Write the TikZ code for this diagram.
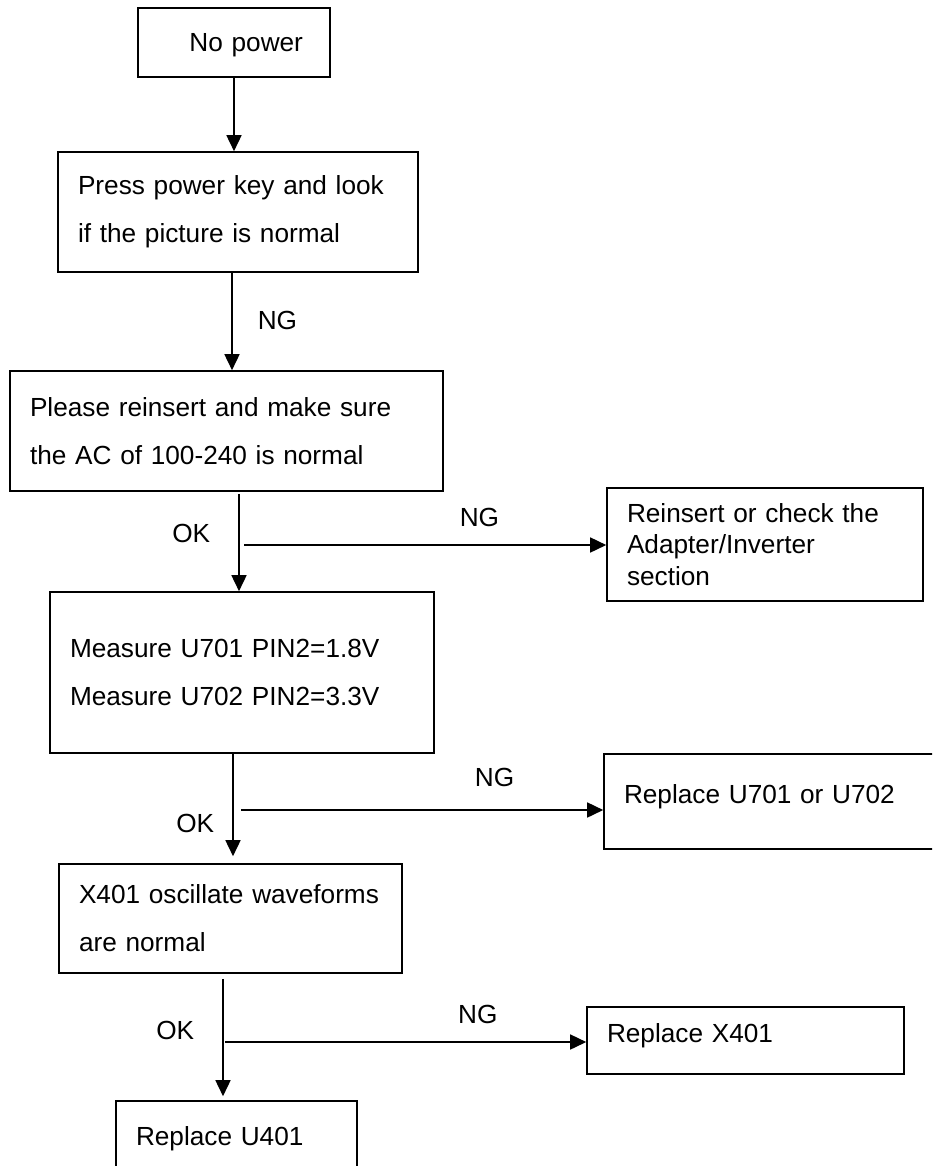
\documentclass[tikz,border=0pt]{standalone}
\usepackage{fontspec}
\setmainfont{Liberation Sans}
\usetikzlibrary{arrows.meta, positioning}

\begin{document}
\begin{tikzpicture}[
    x=1pt, y=-1pt,
    box/.style={rectangle, draw, line width=1.6pt, inner xsep=20pt, inner ysep=0pt, align=left, font=\fontsize{26.2}{48}\selectfont},
    single/.style={box, text height=19pt, text depth=15pt},
    arrow/.style={-{Triangle[length=16pt,width=15pt]}, line width=1.6pt},
    lbl/.style={inner sep=0pt, font=\fontsize{26.2}{30}\selectfont}
]
\useasboundingbox (0,0) rectangle (932,1166);
\clip (0,0) rectangle (932,1166);

% Nodes
\node [box, minimum width=192pt, minimum height=69pt, text width=138pt, inner xsep=27pt, align=right, text depth=0pt] (nopower) at (234,42.5) {No power};
\node [box, minimum width=360pt, minimum height=120pt, text width=320pt] (presskey) at (238,212) {Press power key and look\\ if the picture is normal};
\node [box, minimum width=433pt, minimum height=120pt, text width=393pt] (reinsert) at (226.5,431) {Please reinsert and make sure\\ the AC of 100-240 is normal};
\node [box, minimum width=316pt, minimum height=113pt, text width=276pt, font=\fontsize{26.2}{31.5}\selectfont] (adapter) at (765,544.5) {Reinsert or check the\\ Adapter/Inverter\\ section};
\node [box, minimum width=384pt, minimum height=161pt, text width=344pt] (measure) at (242,672.5) {Measure U701 PIN2=1.8V\\ Measure U702 PIN2=3.3V};
\node [single, minimum width=331pt, minimum height=95pt, text width=291pt] (replaceU7) at (769.5,801.5) {Replace U701 or U702};
\node [box, minimum width=343pt, minimum height=109pt, text width=303pt] (xosc) at (230.5,918.5) {\mbox{X401 oscillate waveforms}\\ are normal};
\node [single, minimum width=317pt, minimum height=67pt, text width=277pt] (replaceX) at (745.5,1040.5) {Replace X401};
\node [single, minimum width=241pt, minimum height=84pt, text width=201pt] (replaceU4) at (236.5,1143) {Replace U401};

% Main path
\draw [arrow] (nopower.south) -- (nopower.south |- presskey.north);
\draw [arrow] ([xshift=-6pt]presskey.south) -- node[lbl, right=25pt, pos=0.485] {NG} ([xshift=-6pt]presskey.south |- reinsert.north);
\draw [arrow, shorten <=2pt] ([xshift=12.5pt]reinsert.south) -- node[lbl, left=28pt, pos=0.42] {OK} ([xshift=12.5pt]reinsert.south |- measure.north);
\draw [arrow, shorten >=7pt] ([xshift=-9pt]measure.south) -- node[lbl, left=18pt, pos=0.64] {OK} ([xshift=-9pt]measure.south |- xosc.north);
\draw [arrow, shorten <=5pt, shorten >=4pt] ([xshift=-7.5pt]xosc.south) -- node[lbl, left=28pt, pos=0.45] {OK} ([xshift=-7.5pt]xosc.south |- replaceU4.north);

% NG branches
\coordinate (fork1) at (244,545);
\coordinate (fork2) at (241,810);
\coordinate (fork3) at (225,1042);
\draw [arrow] (fork1) -- node[lbl, above=17.5pt, pos=0.65] {NG} (fork1 -| adapter.west);
\draw [arrow] (fork2) -- node[lbl, above=22.5pt, pos=0.70] {NG} (fork2 -| replaceU7.west);
\draw [arrow] (fork3) -- node[lbl, above=17.5pt, pos=0.70] {NG} (fork3 -| replaceX.west);

\end{tikzpicture}
\end{document}
